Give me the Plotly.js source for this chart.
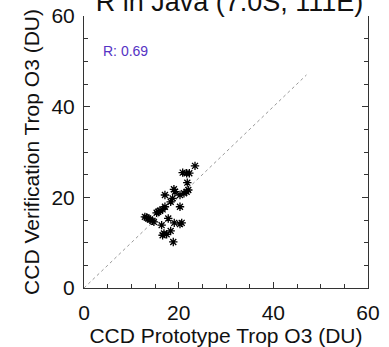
<!DOCTYPE html>
<html>
<head>
<meta charset="utf-8">
<script src="https://cdn.plot.ly/plotly-3.0.1.min.js"></script>
<style>html,body{margin:0;padding:0;background:#fff;}#chart{width:389px;height:347px;}</style>
</head>
<body>
<div id="chart"></div>
<script>
// CCD Prototype Trop O3 (DU)
var prototypeO3 = [23.45, 20.85, 21.69, 22.25, 21.82, 17.10, 19.00, 19.22, 20.28, 21.12,
                   21.69, 22.03, 18.73, 18.31, 20.28, 17.10, 16.61, 16.04, 15.68, 15.34,
                   12.86, 13.22, 13.56, 13.92, 14.49, 14.77, 17.80, 16.40, 19.07, 20.28,
                   20.64, 18.31, 16.89, 17.46, 16.61, 18.86];
// CCD Verification Trop O3 (DU)
var verificationO3 = [26.94, 25.45, 25.32, 25.32, 23.24, 20.51, 21.77, 21.24, 20.51, 20.89,
                      21.24, 21.62, 19.78, 19.02, 17.92, 17.92, 17.34, 17.03, 16.81, 16.59,
                      15.70, 15.57, 15.34, 15.12, 14.81, 14.59, 15.34, 13.86, 14.37, 14.08,
                      14.37, 12.59, 12.02, 11.86, 11.64, 10.16];
var oneToOneX = [0, 47];
var oneToOneY = [0, 47];
var correlationLabel = "R: 0.69";
var chartTitle = "R in Java (7.0S, 111E)";
var xTitle = "CCD Prototype Trop O3 (DU)";
var yTitle = "CCD Verification Trop O3 (DU)";
var tickValues = [0, 20, 40, 60];

var font = "Liberation Sans, Arial, Helvetica, sans-serif";

var traces = [
  {
    x: oneToOneX, y: oneToOneY, mode: "lines", type: "scatter",
    line: {color: "#999999", width: 1, dash: "dot"}, hoverinfo: "skip"
  },
  {
    x: prototypeO3, y: verificationO3, mode: "markers", type: "scatter",
    marker: {symbol: "asterisk-open", size: 7, color: "#000000", line: {color: "#000000", width: 1.3}}
  }
];

var axisCommon = {
  range: [0, 60], tickvals: tickValues, ticks: "inside", ticklen: 6, tickwidth: 1,
  tickcolor: "#333333", showline: true, linecolor: "#333333", linewidth: 1,
  showgrid: false, zeroline: false,
  tickfont: {family: font, size: 21, color: "#111111"},
  minor: {dtick: 5, ticks: "inside", ticklen: 4, tickwidth: 1, tickcolor: "#333333", showgrid: false}
};

var layout = {
  width: 389, height: 347,
  margin: {l: 84, r: 21, t: 16, b: 59},
  paper_bgcolor: "#ffffff", plot_bgcolor: "#ffffff",
  showlegend: false,
  title: {text: chartTitle, font: {family: font, size: 27, color: "#111111"},
          x: 0.59, xanchor: "center", y: 0.995, yanchor: "middle", yref: "container"},
  xaxis: Object.assign({}, axisCommon, {
    mirror: false, ticklabelstandoff: 6,
    title: {text: xTitle, font: {family: font, size: 21, color: "#111111"}, standoff: 2}
  }),
  yaxis: Object.assign({}, axisCommon, {
    mirror: "ticks", ticklabelstandoff: 4,
    title: {text: yTitle, font: {family: font, size: 21, color: "#111111"}, standoff: 6}
  }),
  annotations: [{
    text: correlationLabel, x: 3.6, y: 52.2, xref: "x", yref: "y",
    xanchor: "left", yanchor: "middle", showarrow: false,
    font: {family: font, size: 14, color: "#5533c4"}
  }]
};

Plotly.newPlot("chart", traces, layout, {displayModeBar: false, staticPlot: true});
</script>
</body>
</html>
